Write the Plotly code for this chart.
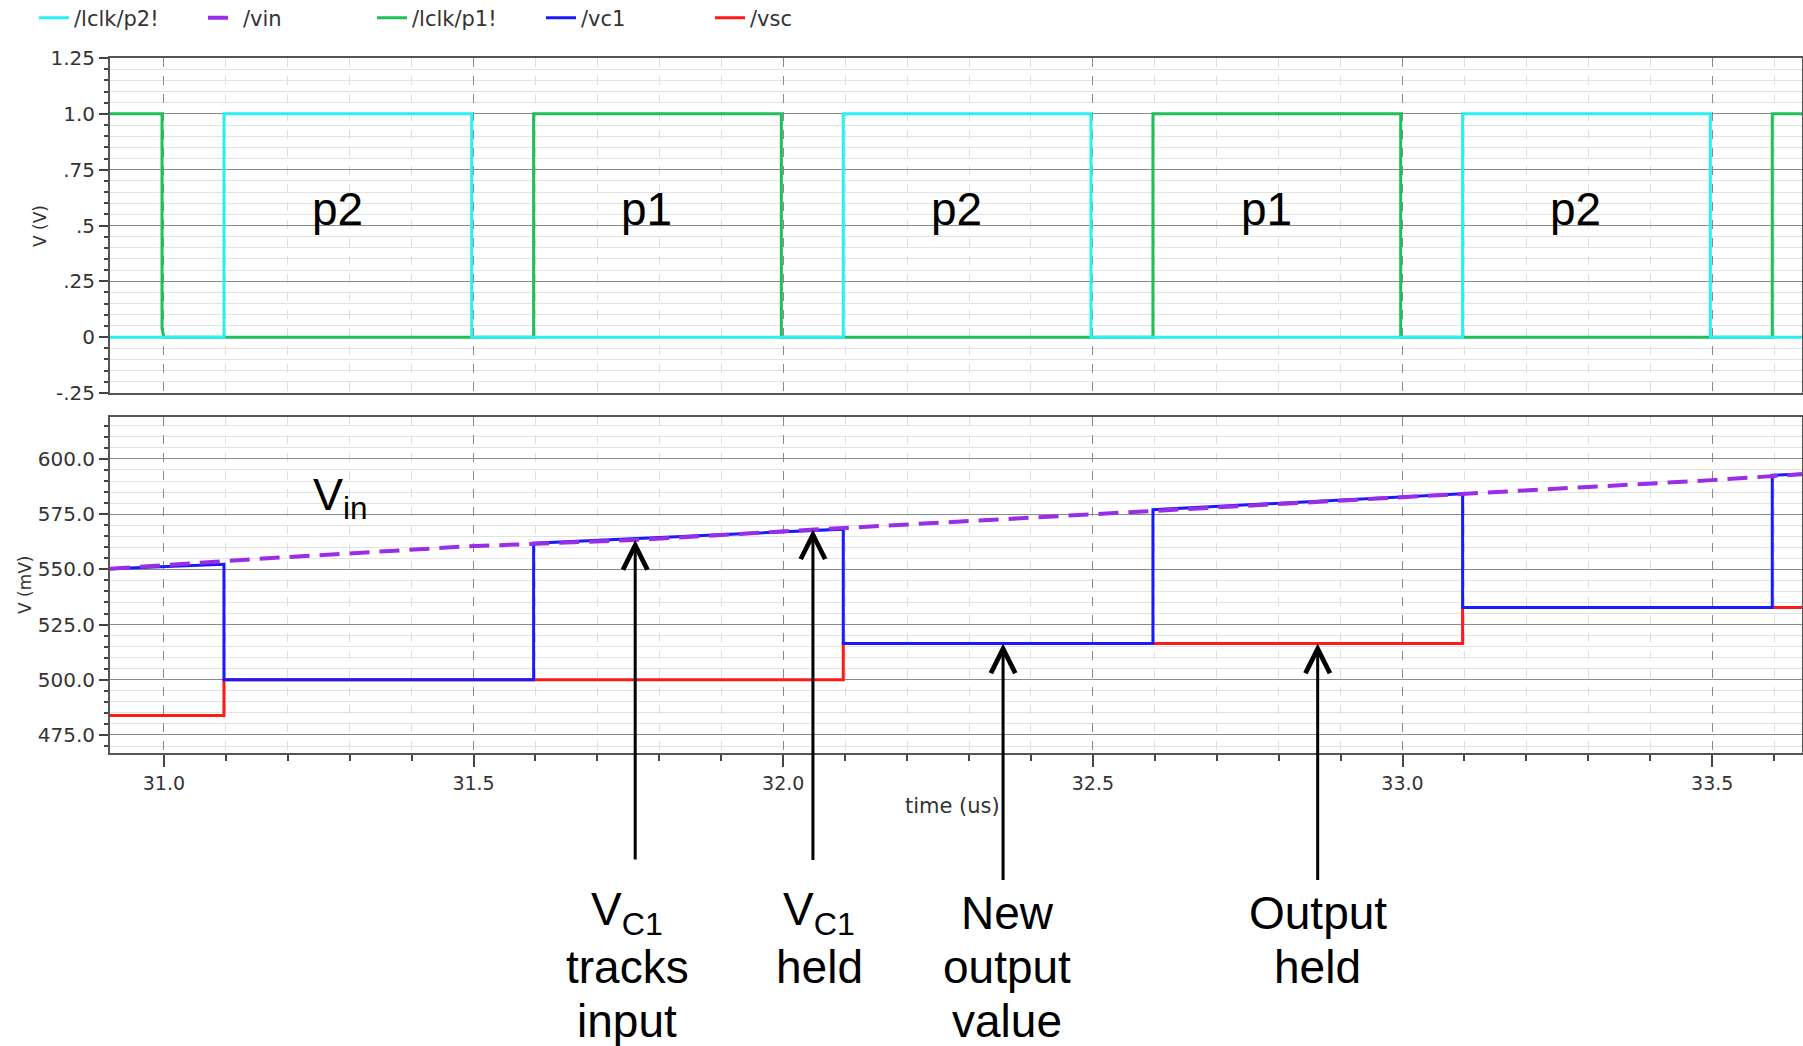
import plotly.graph_objects as go

# ---------------- data (time in us) ----------------
# /lclk/p1!  (green clock)
p1_t = [30.913, 30.997, 30.997, 31.0, 31.597, 31.597, 31.997, 31.997, 32.597, 32.597,
        32.997, 32.997, 33.597, 33.597, 33.645]
p1_v = [1.0, 1.0, 0.04, 0.0, 0.0, 1.0, 1.0, 0.0, 0.0, 1.0,
        1.0, 0.0, 0.0, 1.0, 1.0]

# /lclk/p2!  (cyan clock)
p2_t = [30.913, 31.097, 31.097, 31.497, 31.497, 32.097, 32.097, 32.497, 32.497,
        33.097, 33.097, 33.497, 33.497, 33.645]
p2_v = [0.0, 0.0, 1.0, 1.0, 0.0, 0.0, 1.0, 1.0, 0.0,
        0.0, 1.0, 1.0, 0.0, 0.0]

# /vin (mV)
vin_t = [30.913, 31.19, 31.49, 31.76, 32.05, 32.35, 32.6, 32.86, 33.1, 33.5, 33.645]
vin_v = [550.3, 555.4, 560.4, 563.3, 568.0, 572.6, 576.8, 580.5, 584.2, 590.4, 593.1]

# /vc1 (mV)
vc1_t = [30.913, 31.097, 31.097, 31.597, 31.597, 32.097, 32.097, 32.597, 32.597,
         33.097, 33.097, 33.597, 33.597, 33.645]
vc1_v = [550.3, 552.3, 500.0, 500.0, 561.8, 568.2, 516.4, 516.4, 577.0,
         584.2, 532.7, 532.7, 592.6, 593.2]

# /vsc (mV)
vsc_t = [30.913, 31.097, 31.097, 32.097, 32.097, 33.097, 33.097, 33.645]
vsc_v = [483.8, 483.8, 500.0, 500.0, 516.4, 516.4, 532.7, 532.7]

# tick labels
top_tickvals = [-0.25, 0, 0.25, 0.5, 0.75, 1.0, 1.25]
top_ticktext = ["-.25", "0", ".25", ".5", ".75", "1.0", "1.25"]

# phase labels
phase_names = ["p2", "p1", "p2", "p1", "p2"]
phase_t = [31.28, 31.78, 32.28, 32.78, 33.28]

# callouts: arrow time, arrow tip value, tail offset (px), text column time, text lines
callout_t = [31.761, 32.048, 32.355, 32.863]
callout_v = [563.3, 568.1, 516.4, 516.4]
callout_len = [321, 332, 238, 238]
callout_text_t = [31.748, 32.058, 32.362, 32.863]
callout_text = [["V<sub>C1</sub>", "tracks", "input"],
                ["V<sub>C1</sub>", "held"],
                ["New", "output", "value"],
                ["Output", "held"]]

# ---------------- geometry ----------------
W, H = 1803, 1046
ML, MR, MT, MB = 110, 1, 58, 293
PH = H - MT - MB
PW = W - ML - MR


def py(pix):
    return (H - MB - pix) / PH


def px(pix):
    return (pix - ML) / PW


fig = go.Figure()

# draw order: bottom first; legend order set by legendrank
fig.add_trace(go.Scatter(x=p1_t, y=p1_v, mode="lines", name="/lclk/p1!",
                         line=dict(color="#1fbf5a", width=3), xaxis="x", yaxis="y",
                         legendrank=3))
fig.add_trace(go.Scatter(x=p2_t, y=p2_v, mode="lines", name="/lclk/p2!",
                         line=dict(color="#2af0f0", width=3), xaxis="x", yaxis="y",
                         legendrank=1))
fig.add_trace(go.Scatter(x=vsc_t, y=vsc_v, mode="lines", name="/vsc",
                         line=dict(color="#ff1a1a", width=3), xaxis="x2", yaxis="y2",
                         legendrank=5))
fig.add_trace(go.Scatter(x=vc1_t, y=vc1_v, mode="lines", name="/vc1",
                         line=dict(color="#1a1aff", width=3), xaxis="x2", yaxis="y2",
                         legendrank=4))
fig.add_trace(go.Scatter(x=vin_t, y=vin_v, mode="lines", name="/vin",
                         line=dict(color="#9a2ee6", width=4, dash="20px,10px"),
                         xaxis="x2", yaxis="y2", legendrank=2))

tickfont = dict(family="DejaVu Sans", size=20, color="#333333")
xtickfont = dict(family="DejaVu Sans", size=19, color="#333333")
frame = dict(showline=True, linecolor="#555555", linewidth=2, mirror=True)

xcommon = dict(range=[30.913, 33.645], tick0=31.0, dtick=0.5,
               showgrid=True, gridcolor="#8a8a8a", griddash="dash", gridwidth=1,
               zeroline=False, **frame)

fig.update_layout(
    width=W, height=H,
    margin=dict(l=ML, r=MR, t=MT, b=MB, autoexpand=False),
    paper_bgcolor="white", plot_bgcolor="white",
    showlegend=True,
    legend=dict(orientation="h", x=px(34), xanchor="left", y=py(18), yanchor="middle",
                font=dict(family="DejaVu Sans", size=21, color="#333333"),
                entrywidth=124, itemwidth=30, bgcolor="rgba(0,0,0,0)",
                traceorder="normal"),
    xaxis=dict(domain=[0, 1], anchor="y", showticklabels=False, ticks="",
               minor=dict(dtick=0.1, tick0=31.0, showgrid=True, gridcolor="#dedede"),
               **xcommon),
    yaxis=dict(domain=[0.518, 1], anchor="x", range=[-0.25, 1.25],
               tickvals=top_tickvals, ticktext=top_ticktext, tickfont=tickfont,
               ticks="outside", ticklen=9, tickcolor="#444", tickwidth=1.5,
               showgrid=True, gridcolor="#8a8a8a", zeroline=False,
               minor=dict(dtick=0.05, tick0=0, showgrid=True, gridcolor="#e2e2e2",
                          ticks="outside", ticklen=4, tickcolor="#444"),
               **frame),
    xaxis2=dict(domain=[0, 1], anchor="y2", tickfont=xtickfont, tickformat=".1f",
                ticks="outside", ticklen=12, tickcolor="#444", tickwidth=1.5,
                minor=dict(dtick=0.1, tick0=31.0, showgrid=True, gridcolor="#dedede",
                           ticks="outside", ticklen=6, tickcolor="#444"),
                **xcommon),
    yaxis2=dict(domain=[0, 0.4835], anchor="x2", range=[466.85, 619.0],
                tick0=475, dtick=25, tickformat=".1f", tickfont=tickfont,
                ticks="outside", ticklen=9, tickcolor="#444", tickwidth=1.5,
                showgrid=True, gridcolor="#8a8a8a", zeroline=False,
                minor=dict(dtick=5, tick0=475, showgrid=True, gridcolor="#e2e2e2",
                           ticks="outside", ticklen=4, tickcolor="#444"),
                **frame),
)

ann = []
# axis titles
ann.append(dict(text="V (V)", textangle=-90, xref="paper", yref="paper",
                x=px(40), y=py(226), xanchor="center", yanchor="middle", showarrow=False,
                font=dict(family="DejaVu Sans", size=17, color="#333")))
ann.append(dict(text="V (mV)", textangle=-90, xref="paper", yref="paper",
                x=px(25), y=py(585), xanchor="center", yanchor="middle", showarrow=False,
                font=dict(family="DejaVu Sans", size=17, color="#333")))
ann.append(dict(text="time (us)", xref="paper", yref="paper",
                x=px(952), y=py(806), xanchor="center", yanchor="middle", showarrow=False,
                font=dict(family="DejaVu Sans", size=21, color="#333")))

# phase labels
for name, t in zip(phase_names, phase_t):
    ann.append(dict(text=name, xref="x", yref="y", x=t, y=0.575, showarrow=False,
                    xanchor="center", yanchor="middle",
                    font=dict(family="Liberation Sans", size=46, color="black")))

# Vin label
ann.append(dict(text="V<sub>in</sub>", xref="x2", yref="y2", x=31.238, y=582.5,
                xanchor="left", yanchor="middle", showarrow=False,
                font=dict(family="Liberation Sans", size=45, color="black")))

# arrows + text
row_y = [913, 967, 1021]
for t, v, L, tt, lines in zip(callout_t, callout_v, callout_len, callout_text_t, callout_text):
    ann.append(dict(x=t, y=v, xref="x2", yref="y2", text="", showarrow=True,
                    ax=0, ay=L, arrowhead=5, arrowsize=1.6, arrowwidth=3,
                    arrowcolor="black"))
    for i, s in enumerate(lines):
        ann.append(dict(text=s, xref="x2", yref="paper", x=tt, y=py(row_y[i]),
                        xanchor="center", yanchor="middle", showarrow=False,
                        font=dict(family="Liberation Sans", size=46, color="black")))

fig.update_layout(annotations=ann)
fig.write_html("out.html",
               config={"displayModeBar": False},
               post_script="document.body.style.margin='0px';"
                           "document.body.style.overflow='hidden';")
